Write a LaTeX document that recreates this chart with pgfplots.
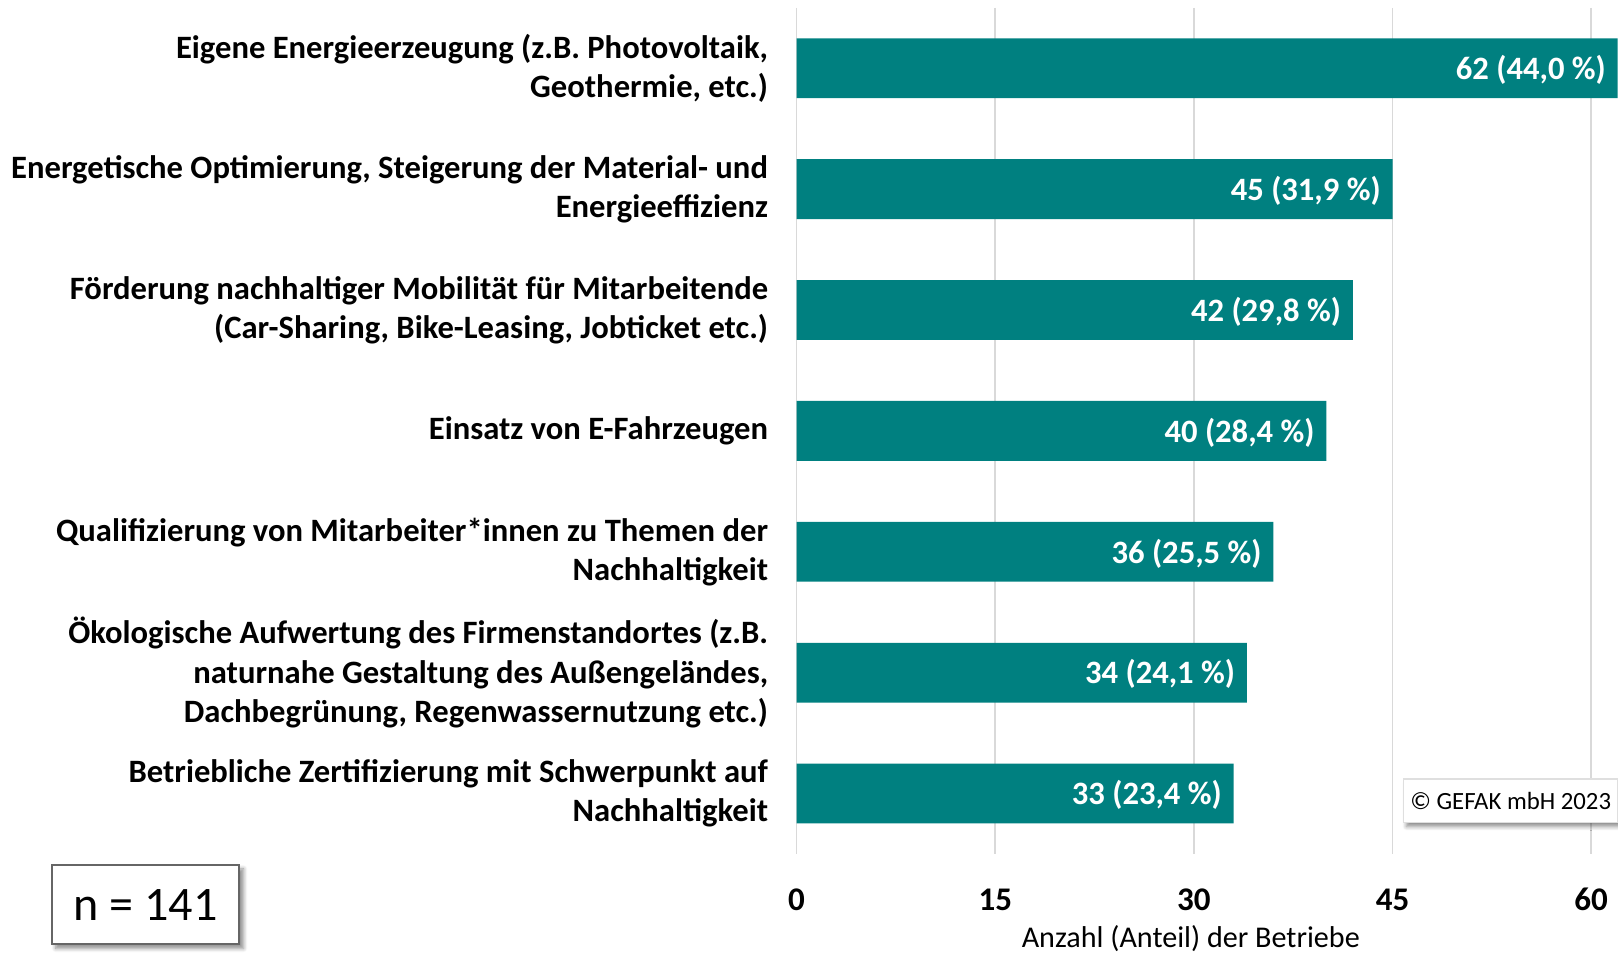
\documentclass[border=0pt]{standalone}
\usepackage{pgfplots}
\pgfplotsset{compat=1.18}
\usepackage{pgfplotstable}
\usepackage{fontspec}
\setmainfont{Carlito}
\usetikzlibrary{shadows.blur}
\definecolor{barteal}{RGB}{0,128,128}
\definecolor{gridgray}{RGB}{217,217,217}

\pgfplotstableread{
idx val label
0 62 {62 (44,0 \%)}
1 45 {45 (31,9 \%)}
2 42 {42 (29,8 \%)}
3 40 {40 (28,4 \%)}
4 36 {36 (25,5 \%)}
5 34 {34 (24,1 \%)}
6 33 {33 (23,4 \%)}
}\datatable

\begin{document}
\begin{tikzpicture}
\begin{axis}[
  at={(0,0)}, anchor=south west,
  scale only axis, width=385pt, height=410pt,
  xbar, bar width=29pt,
  xmin=0, xmax=60, ymin=-0.5, ymax=6.5, y dir=reverse,
  clip=false,
  xtick={0,15,30,45,60},
  ytick={0,1,2,3,4,5,6},
  yticklabels={
    {Eigene Energieerzeugung (z.B. Photovoltaik,\\Geothermie, etc.)},
    {Energetische Optimierung, Steigerung der Material- und\\Energieeffizienz},
    {Förderung nachhaltiger Mobilität für Mitarbeitende\\(Car-Sharing, Bike-Leasing, Jobticket etc.)},
    {Einsatz von E-Fahrzeugen},
    {Qualifizierung von Mitarbeiter*innen zu Themen der\\Nachhaltigkeit},
    {Ökologische Aufwertung des Firmenstandortes (z.B.\\naturnahe Gestaltung des Außengeländes,\\Dachbegrünung, Regenwassernutzung etc.)},
    {Betriebliche Zertifizierung mit Schwerpunkt auf\\Nachhaltigkeit}
  },
  axis line style={draw=none},
  major tick length=0pt,
  xmajorgrids, ymajorgrids=false,
  grid style={gridgray, line width=0.8pt},
  /pgf/number format/assume math mode=true,
  xticklabel style={font=\fontsize{16}{19}\selectfont\bfseries, anchor=center, yshift=-22pt},
  yticklabel style={align=right, font=\fontsize{15.8}{19}\selectfont\bfseries, anchor=east, xshift=-10.3pt},
  point meta=explicit symbolic,
  nodes near coords,
  every node near coord/.append style={anchor=east, xshift=-2.2pt, yshift=-0.8pt, text=white, font=\fontsize{15.8}{18}\selectfont\bfseries},
]
\addplot[fill=barteal, draw=none] table[x=val, y=idx, meta=label] {\datatable};
\end{axis}
\node[font=\fontsize{14.6}{17}\selectfont, anchor=center] at (191pt,-41pt) {Anzahl (Anteil) der Betriebe};
\node[draw=gray!80!black, line width=1pt, fill=white,
      blur shadow={shadow xshift=2pt, shadow yshift=-2pt, shadow blur steps=6, shadow opacity=45},
      minimum width=91pt, minimum height=38.5pt, inner sep=0pt,
      font=\fontsize{23.3}{27}\selectfont] at (-315.5pt,-24.5pt) {n = 141};
\node[draw=gray!25, line width=0.6pt, fill=white,
      blur shadow={shadow xshift=1.5pt, shadow yshift=-2pt, shadow blur steps=6, shadow opacity=45},
      minimum width=104pt, minimum height=21pt, inner sep=0pt,
      font=\fontsize{12}{14}\selectfont] at (346pt,25.8pt) {© GEFAK mbH 2023};
\pgfresetboundingbox
\path (-386pt,-48.2pt) rectangle (398pt,413.8pt);
\end{tikzpicture}
\end{document}
